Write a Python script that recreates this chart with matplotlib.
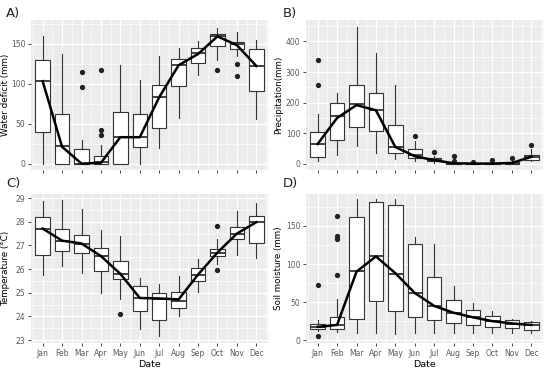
import matplotlib
matplotlib.use("Agg")
import matplotlib.pyplot as plt
from matplotlib.ticker import MultipleLocator
import numpy as np

months = ["Jan", "Feb", "Mar", "Apr", "May", "Jun", "Jul", "Aug", "Sep", "Oct", "Nov", "Dec"]

# Panel A: water deficit (mm)
wd_whislo = [0, 0, 0, 0, 0, 0, 19, 57.5, 111, 129, 134.6, 56]
wd_q1 = [40, 0, 0, 0, 0, 21, 45, 97.5, 126, 147, 143, 91]
wd_med = [103, 21.7, 0, 2, 33.75, 33.75, 83, 123, 138, 160, 149, 122.5]
wd_q3 = [129.6, 62, 18, 10, 64.6, 62, 98, 131, 144.6, 162.5, 152.5, 143.75]
wd_whishi = [160, 137.5, 30, 23, 123, 104, 135, 144, 153, 170, 165, 154.6]
wd_out = [[], [], [114.6, 96], [117.5, 42, 36], [], [], [], [], [], [117], [125, 109.6], []]
wd_line = [103, 21, 0, 1, 33, 33, 83, 123, 137, 159, 148, 122]

# Panel B: precipitation (mm)
pr_whislo = [9, 30, 60, 36, 15, 9, 3, 0, 0, 0, 0, 8.7]
pr_q1 = [23, 78, 120, 106, 36, 20, 8.7, 0, 0, 0, 0, 14]
pr_med = [64, 155, 196, 176, 55, 28, 14, 1, 0, 1, 3, 23]
pr_q3 = [103, 199, 257, 230, 126, 47, 19.6, 3, 1, 2, 6, 30]
pr_whishi = [164, 230, 447, 362, 257, 74, 25, 5, 3, 5, 10, 47]
pr_out = [[339, 257], [], [], [], [], [90], [38], [25, 8.7], [6.5], [14], [19.6], [63]]
pr_line = [65, 150, 192, 175, 55, 25, 12, 2, 1, 1, 3, 23]

# Panel C: temperature (°C)
tp_whislo = [25.77, 26.13, 25.85, 24.97, 24.72, 23.45, 23.17, 24.04, 25.04, 26.23, 26.58, 26.47]
tp_q1 = [26.61, 26.78, 26.68, 25.94, 25.59, 24.22, 23.87, 24.37, 25.5, 26.54, 27.27, 27.09]
tp_med = [27.71, 27.2, 27.06, 26.57, 25.8, 24.76, 24.73, 24.67, 25.77, 26.68, 27.5, 27.99]
tp_q3 = [28.19, 27.69, 27.44, 26.89, 26.33, 25.29, 24.98, 25.05, 26.04, 26.85, 27.78, 28.23]
tp_whishi = [28.86, 28.93, 28.55, 27.65, 27.41, 25.63, 25.39, 25.69, 26.43, 27.27, 28.44, 28.79]
tp_out = [[], [], [], [], [24.1], [], [], [], [], [27.81, 25.98], [], []]
tp_line = [27.71, 27.2, 27.08, 26.55, 25.8, 24.78, 24.76, 24.72, 25.77, 26.7, 27.5, 27.98]

# Panel D: soil moisture (mm)
sm_whislo = [11.8, 11, 8.8, 8.8, 7.5, 8.8, 8.8, 8.8, 8.8, 8.8, 8.8, 8.8]
sm_q1 = [14.5, 14.5, 27.6, 51.3, 38.2, 30.3, 25.9, 22.8, 19.3, 17.1, 16.2, 13.2]
sm_med = [17.5, 19.7, 91, 111, 87.3, 62.3, 44.7, 36, 30.3, 25, 21.5, 19.7]
sm_q3 = [21.5, 30.3, 162, 181.6, 177.6, 125.9, 82.9, 52.2, 39.5, 31.6, 25.9, 23.7]
sm_whishi = [25.9, 53.5, 185, 185, 185, 135.5, 126.8, 71, 48.7, 38.2, 28, 25]
sm_out = [[72.4, 5.3], [163, 137, 132.5, 85], [], [], [], [], [], [], [], [], [], []]
sm_line = [17.5, 20, 90, 110, 88, 62, 45, 36, 30, 25, 22, 20]

W, H = 550, 371
fig = plt.figure(figsize=(W / 100, H / 100), dpi=100)


def axes_px(l, r, t, b):
    return fig.add_axes([l / W, 1 - b / H, (r - l) / W, (b - t) / H])


def panel(ax, lo, q1, med, q3, hi, out, line, ylim, major, minor, ylabel, xlabels, ylab_x):
    ax.set_facecolor("#EBEBEB")
    for s in ax.spines.values():
        s.set_visible(False)
    stats = []
    for i in range(12):
        stats.append(dict(whislo=lo[i], q1=q1[i], med=med[i], q3=q3[i], whishi=hi[i], fliers=out[i]))
    pos = np.arange(1, 13)
    ax.bxp(stats, positions=pos, widths=0.75, patch_artist=True, showcaps=False,
           boxprops=dict(facecolor="white", edgecolor="#333333", linewidth=0.8),
           medianprops=dict(color="#333333", linewidth=1.3),
           whiskerprops=dict(color="#333333", linewidth=0.8),
           flierprops=dict(marker="o", markerfacecolor="#222222", markeredgecolor="#222222",
                           markersize=2.8, linestyle="none"), zorder=3)
    ax.plot(pos, line, color="black", linewidth=1.8, zorder=4)
    ax.set_xlim(0.4, 12.6)
    ax.set_ylim(*ylim)
    ax.set_xticks(pos)
    ax.set_xticks(np.arange(0.5, 13, 1), minor=True)
    ax.yaxis.set_major_locator(MultipleLocator(major))
    ax.yaxis.set_minor_locator(MultipleLocator(minor))
    ax.grid(which="major", color="white", linewidth=0.9, zorder=0)
    ax.grid(which="minor", color="white", linewidth=0.45, zorder=0)
    ax.set_axisbelow(True)
    ax.tick_params(which="major", length=2.5, width=0.7, color="#444444", labelsize=5.5,
                   labelcolor="#5A5A5A", pad=1.5)
    ax.tick_params(which="minor", length=0)
    if xlabels:
        ax.set_xticklabels(months)
        ax.set_xlabel("Date", fontsize=6.8, labelpad=2)
    else:
        ax.set_xticklabels([])
    ax.set_ylabel(ylabel, fontsize=6.3)
    ax.yaxis.set_label_coords(ylab_x, 0.5)
    return ax


axA = axes_px(31, 268, 20, 170)
panel(axA, wd_whislo, wd_q1, wd_med, wd_q3, wd_whishi, wd_out, wd_line,
      (-8, 179.5), 50, 25, "Water deficit (mm)", False, -0.09)
axB = axes_px(306, 543, 20, 170)
panel(axB, pr_whislo, pr_q1, pr_med, pr_q3, pr_whishi, pr_out, pr_line,
      (-20, 470), 100, 50, "Precipitation(mm)", False, -0.095)
axC = axes_px(31, 268, 194, 343)
panel(axC, tp_whislo, tp_q1, tp_med, tp_q3, tp_whishi, tp_out, tp_line,
      (22.88, 29.17), 1, 0.5, "Temperature (°C)", True, -0.09)
axD = axes_px(306, 543, 194, 343)
panel(axD, sm_whislo, sm_q1, sm_med, sm_q3, sm_whishi, sm_out, sm_line,
      (-3.7, 192), 50, 25, "Soil moisture (mm)", True, -0.095)

for txt, x, y in [("A)", 6, 13), ("B)", 283, 13), ("C)", 6, 184), ("D)", 283, 184)]:
    fig.text(x / W, 1 - y / H, txt, fontsize=9.5, color="#222222", va="center", ha="left")

fig.savefig("out.png", dpi=100, facecolor="white")
